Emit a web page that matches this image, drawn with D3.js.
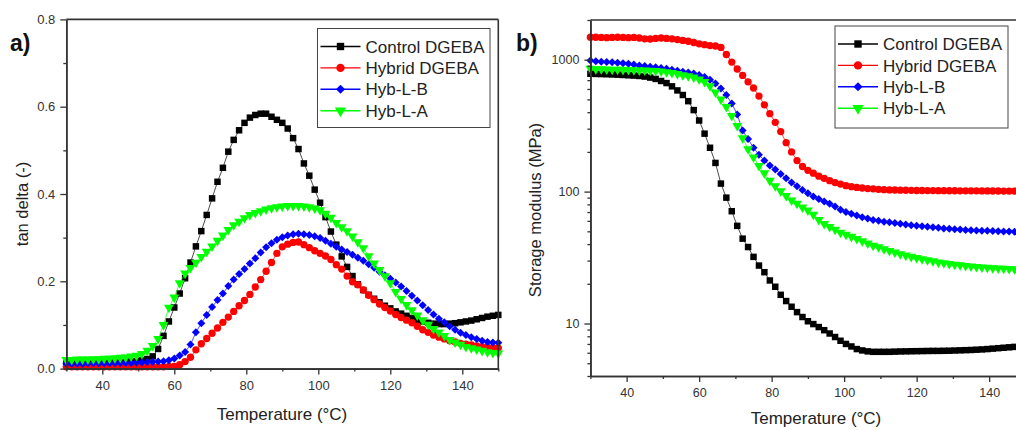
<!DOCTYPE html>
<html>
<head>
<meta charset="utf-8">
<script src="https://cdn.jsdelivr.net/npm/d3@7"></script>
<style>
  html, body { margin: 0; padding: 0; background: #fff; }
  svg { display: block; font-family: "Liberation Sans", Arial, sans-serif; }
</style>
</head>
<body>
<svg id="chart" width="1016" height="430"></svg>
<script>
// ---------------- DATA ----------------
const seriesNames = ["Control DGEBA", "Hybrid DGEBA", "Hyb-L-B", "Hyb-L-A"];

const temps = [30,31.5,33,34.5,36,37.5,39,40.5,42,43.5,45,46.5,48,49.5,51,52.5,54,55.5,57,58.5,
  60,61.5,63,64.5,66,67.5,69,70.5,72,73.5,75,76.5,78,79.5,81,82.5,84,85.5,87,88.5,
  90,91.5,93,94.5,96,97.5,99,100.5,102,103.5,105,106.5,108,109.5,111,112.5,114,115.5,117,118.5,
  120,121.5,123,124.5,126,127.5,129,130.5,132,133.5,135,136.5,138,139.5,141,142.5,144,145.5,147,148.5,150];

// tan delta (panel a)
const tanControl = [0.012,0.012,0.012,0.012,0.013,0.013,0.013,0.013,0.014,0.014,0.014,0.015,0.016,0.017,0.019,0.022,0.028,
  0.045,0.075,0.108,0.140,0.172,0.207,0.243,0.280,0.315,0.352,0.390,0.428,0.460,0.497,0.524,0.546,0.563,0.575,0.581,0.584,0.584,0.577,0.570,
  0.563,0.550,0.528,0.503,0.470,0.442,0.410,0.380,0.347,0.314,0.284,0.257,0.233,0.212,0.193,0.180,0.169,0.160,0.152,0.144,
  0.138,0.131,0.126,0.121,0.116,0.112,0.108,0.105,0.103,0.102,0.102,0.103,0.104,0.106,0.108,0.110,0.113,0.116,0.119,0.121,0.123];
const tanHybrid = [0.004,0.004,0.004,0.004,0.004,0.004,0.004,0.004,0.004,0.004,0.004,0.004,0.004,0.004,0.004,0.004,0.004,0.004,0.004,0.005,
  0.005,0.009,0.016,0.026,0.043,0.057,0.069,0.081,0.093,0.106,0.118,0.131,0.144,0.156,0.170,0.187,0.204,0.223,0.243,0.264,
  0.279,0.285,0.289,0.290,0.284,0.277,0.270,0.264,0.258,0.250,0.238,0.228,0.212,0.199,0.192,0.180,0.168,0.158,0.148,0.140,
  0.132,0.124,0.117,0.111,0.105,0.097,0.089,0.083,0.077,0.072,0.068,0.064,0.061,0.058,0.056,0.054,0.052,0.050,0.049,0.048,0.047];
const tanHybLB = [0.011,0.011,0.011,0.011,0.012,0.012,0.012,0.012,0.012,0.013,0.013,0.013,0.013,0.014,0.014,0.015,0.015,0.016,0.017,0.019,
  0.023,0.030,0.038,0.055,0.083,0.104,0.123,0.141,0.157,0.172,0.189,0.204,0.217,0.228,0.241,0.253,0.266,0.278,0.287,0.295,
  0.301,0.305,0.308,0.309,0.308,0.306,0.303,0.299,0.293,0.286,0.279,0.273,0.267,0.261,0.254,0.247,0.239,0.231,0.222,0.214,
  0.206,0.197,0.188,0.178,0.167,0.156,0.145,0.134,0.124,0.114,0.106,0.097,0.089,0.082,0.077,0.072,0.068,0.064,0.061,0.060,0.059];
const tanHybLA = [0.020,0.020,0.021,0.021,0.021,0.022,0.022,0.023,0.023,0.024,0.025,0.026,0.028,0.030,0.034,0.041,0.052,0.068,0.100,0.140,
  0.163,0.196,0.218,0.231,0.243,0.256,0.268,0.280,0.293,0.305,0.318,0.329,0.337,0.345,0.352,0.357,0.361,0.365,0.368,0.370,
  0.372,0.373,0.373,0.373,0.372,0.370,0.367,0.363,0.355,0.346,0.334,0.324,0.315,0.303,0.290,0.276,0.258,0.241,0.226,0.212,
  0.196,0.176,0.160,0.146,0.134,0.122,0.111,0.101,0.091,0.083,0.075,0.066,0.060,0.055,0.050,0.047,0.044,0.041,0.038,0.036,0.035];

// storage modulus in MPa (panel b)
const modControl = [783,780,778,776,773,770,766,762,758,753,745,732,715,690,665,628,585,540,485,415,
  346,275,215,165,115,90,71,55,44,38,32,27.5,24.5,21.2,19,16.5,14.8,13.4,12.2,11.2,
  10.4,9.9,9.4,8.9,8.4,7.9,7.4,7.0,6.7,6.4,6.25,6.15,6.1,6.1,6.1,6.1,6.12,6.14,6.15,6.16,
  6.17,6.18,6.19,6.2,6.2,6.21,6.22,6.24,6.26,6.28,6.3,6.33,6.36,6.4,6.45,6.5,6.55,6.6,6.65,6.72,6.8];
const modHybrid = [1480,1480,1475,1470,1475,1480,1475,1470,1475,1460,1440,1435,1450,1460,1450,1440,1420,1400,1380,1350,
  1320,1300,1280,1270,1240,1095,960,850,760,680,610,530,455,390,335,285,235,200,172,155,
  145,138,131,126,121,117,114,111,109,107.5,106.5,105.5,105,104,103.5,103,102.8,102.6,102.4,102.2,
  102,102,101.8,101.8,101.6,101.6,101.5,101.5,101.4,101.4,101.3,101.3,101.2,101.2,101.1,101.1,101,101,101,101,101];
const modHybLB = [985,975,965,960,955,950,940,930,920,905,895,885,875,865,855,840,825,810,800,785,
  765,740,705,660,605,540,465,385,290,250,215,190,172,158,147,136,126,117,110,103,
  97,92,88,84,81,77,73,70,68,66,64,62.5,61,60,59.2,58.5,57.8,57,56.3,55.7,
  55.1,54.6,54.1,53.6,53.1,52.6,52.2,51.8,51.5,51.2,51,50.8,50.6,50.4,50.2,50,49.9,49.8,49.7,49.6,49.5];
const modHybLA = [855,850,848,845,843,842,840,838,835,832,830,828,822,815,805,795,780,765,750,735,
  710,680,630,565,500,440,375,315,255,210,182,157,138,121,110,101,93,86,81,76,
  72,67,61,57,54,51.5,49,47.3,45.5,43.8,42.2,40.6,39,37.9,36.7,35.6,34.6,33.6,32.8,32.1,
  31.4,30.8,30.3,29.7,29.1,28.7,28.3,28,27.7,27.4,27.1,26.9,26.7,26.5,26.3,26.2,26.1,26,25.9,25.8,25.7];

// ticks
const xMajorTicks = [40, 60, 80, 100, 120, 140];
const xMinorTicks = [30, 50, 70, 90, 110, 130, 150];
const yTicksA = [0.0, 0.2, 0.4, 0.6, 0.8];
const yMinorA = [0.1, 0.3, 0.5, 0.7];
const yTicksB = [10, 100, 1000];
const yMinorB = [4,5,6,7,8,9,20,30,40,50,60,70,80,90,200,300,400,500,600,700,800,900,2000];

// ---------------- STYLE ----------------
const colors = ["#000000", "#ff0000", "#0000ff", "#00ff00"];
const diamond = {
  draw(ctx, size) {
    const r = Math.sqrt(size / 2);
    ctx.moveTo(0, -r); ctx.lineTo(r, 0); ctx.lineTo(0, r); ctx.lineTo(-r, 0); ctx.closePath();
  }
};
const markers = [
  { type: d3.symbolSquare, size: 42, rot: 0 },
  { type: d3.symbolCircle, size: 42, rot: 0 },
  { type: diamond, size: 32, rot: 0 },
  { type: d3.symbolTriangle, size: 42, rot: 180 }
];
const axisColor = "#333";
const svg = d3.select("#chart");

function drawPanel(opt) {
  const g = svg.append("g");
  const x = d3.scaleLinear().domain([30, 150]).range([opt.x0, opt.x1]);
  const y = opt.log
    ? d3.scaleLog().domain(opt.yDomain).range([opt.y0, opt.y1])
    : d3.scaleLinear().domain(opt.yDomain).range([opt.y0, opt.y1]);

  // series
  opt.series.forEach((vals, i) => {
    const pts = temps.map((t, k) => [t, vals[k]]);
    g.append("path")
      .attr("d", d3.line().x(d => x(d[0])).y(d => y(d[1]))(pts))
      .attr("fill", "none").attr("stroke", colors[i]).attr("stroke-width", 0.7);
    const sym = d3.symbol().type(markers[i].type).size(markers[i].size);
    g.append("g").selectAll("path").data(pts).join("path")
      .attr("d", sym)
      .attr("transform", d => `translate(${x(d[0])},${y(d[1])}) rotate(${markers[i].rot})`)
      .attr("fill", colors[i]);
  });

  // axes
  const xa = g.append("g").attr("transform", `translate(0,${opt.y0})`)
    .call(d3.axisBottom(x).tickValues(xMajorTicks).tickSize(6).tickSizeOuter(0).tickPadding(6).tickFormat(d3.format("d")));
  const xm = g.append("g").attr("transform", `translate(0,${opt.y0})`)
    .call(d3.axisBottom(x).tickValues(xMinorTicks).tickSize(3).tickSizeOuter(0).tickFormat(""));
  const ya = g.append("g").attr("transform", `translate(${opt.x0},0)`)
    .call(d3.axisLeft(y).tickValues(opt.yTicks).tickSize(6).tickSizeOuter(0).tickPadding(5).tickFormat(opt.yFormat));
  const ym = g.append("g").attr("transform", `translate(${opt.x0},0)`)
    .call(d3.axisLeft(y).tickValues(opt.yMinor).tickSize(3).tickSizeOuter(0).tickFormat(""));
  [xa, xm, ya, ym].forEach(a => {
    a.select(".domain").attr("stroke", axisColor).attr("stroke-width", 1.6);
    a.selectAll(".tick line").attr("stroke", axisColor).attr("stroke-width", 1.3);
    a.selectAll(".tick text").attr("fill", "#333").attr("font-size", opt.tickFont)
      .attr("font-family", "Liberation Sans, Arial, sans-serif");
  });
  // frame
  g.append("line").attr("x1", opt.x0).attr("x2", opt.x1).attr("y1", opt.y1).attr("y2", opt.y1)
    .attr("stroke", axisColor).attr("stroke-width", 1.6);
  g.append("line").attr("x1", opt.x1).attr("x2", opt.x1).attr("y1", opt.y1).attr("y2", opt.y0)
    .attr("stroke", axisColor).attr("stroke-width", 1.6);

  // titles
  g.append("text").attr("x", opt.xTitle[0]).attr("y", opt.xTitle[1])
    .attr("text-anchor", "middle").attr("font-size", 17).attr("fill", "#222")
    .text("Temperature (°C)");
  g.append("text").attr("transform", `translate(${opt.yTitle[0]},${opt.yTitle[1]}) rotate(-90)`)
    .attr("text-anchor", "middle").attr("dy", "0.35em").attr("font-size", 16.5).attr("fill", "#222")
    .text(opt.yLabel);
  g.append("text").attr("x", opt.tag[0]).attr("y", opt.tag[1])
    .attr("font-size", 23).attr("font-weight", "bold").attr("fill", "#111").text(opt.tagText);

  // legend
  const L = opt.legend;
  g.append("rect").attr("x", L.x).attr("y", L.y).attr("width", L.w).attr("height", L.h)
    .attr("fill", "#fff").attr("stroke", "#444").attr("stroke-width", 1);
  seriesNames.forEach((name, i) => {
    const cy = L.y + 18 + i * 21.4;
    g.append("line").attr("x1", L.x + 3).attr("x2", L.x + 43).attr("y1", cy).attr("y2", cy)
      .attr("stroke", colors[i]).attr("stroke-width", 1.4);
    g.append("path").attr("d", d3.symbol().type(markers[i].type).size(markers[i].size * 1.3)())
      .attr("transform", `translate(${L.x + 23},${cy}) rotate(${markers[i].rot})`)
      .attr("fill", colors[i]);
    g.append("text").attr("x", L.x + 48).attr("y", cy).attr("dy", "0.36em")
      .attr("font-size", 17).attr("fill", "#222").text(name);
  });
}

drawPanel({
  x0: 66.3, x1: 498.3, y0: 368.6, y1: 19.4,
  yDomain: [0, 0.8], log: false,
  series: [tanControl, tanHybrid, tanHybLB, tanHybLA],
  yTicks: yTicksA, yMinor: yMinorA, yFormat: d3.format(".1f"), tickFont: 13,
  xTitle: [282, 420], yTitle: [22, 204], yLabel: "tan delta (-)",
  tag: [10, 51], tagText: "a)",
  legend: { x: 317.5, y: 28.5, w: 172.5, h: 99 }
});

drawPanel({
  x0: 590.4, x1: 1025.4, y0: 376, y1: 20,
  yDomain: [4, 2000], log: true,
  series: [modControl, modHybrid, modHybLB, modHybLA],
  yTicks: yTicksB, yMinor: yMinorB, yFormat: d3.format("d"), tickFont: 12.5,
  xTitle: [816, 424], yTitle: [535, 210], yLabel: "Storage modulus (MPa)",
  tag: [516, 51], tagText: "b)",
  legend: { x: 835, y: 26, w: 173, h: 102 }
});
</script>
</body>
</html>
